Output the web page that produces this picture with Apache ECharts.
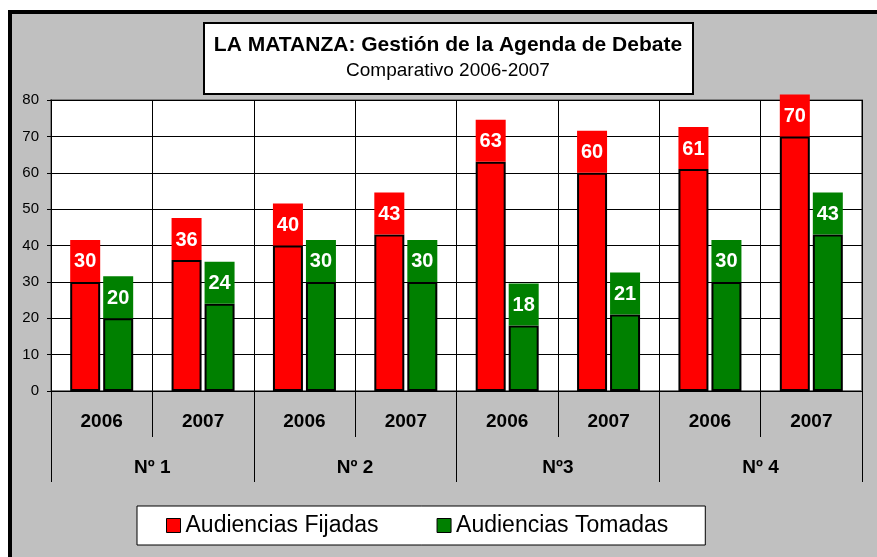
<!DOCTYPE html>
<html>
<head>
<meta charset="utf-8">
<script src="https://cdn.jsdelivr.net/npm/echarts@6/dist/echarts.min.js"></script>
<style>
  html, body { margin: 0; padding: 0; background: #fff; }
  #main { width: 877px; height: 557px; }
</style>
</head>
<body>
<div id="main"></div>
<script>
// datos
var years = ["2006", "2007", "2006", "2007", "2006", "2007", "2006", "2007"];
var groups = ["Nº 1", "Nº 2", "Nº3", "Nº 4"];
var fijadas = [30, 36, 40, 43, 63, 60, 61, 70];
var tomadas = [20, 24, 30, 30, 18, 21, 30, 43];
var yTicks = [0, 80, 10]; // min, max, intervalo

var font = "Liberation Sans, Arial, sans-serif";

function barLabel(color) {
  return {
    show: true,
    position: "top",
    distance: 0,
    formatter: "{c}",
    color: "#fff",
    fontFamily: font,
    fontWeight: "bold",
    fontSize: 20,
    backgroundColor: color,
    width: 30,
    height: 42,
    lineHeight: 40,
    align: "center",
  };
}

var myChart = echarts.init(document.getElementById("main"));
myChart.setOption({
  animation: false,
  textStyle: { fontFamily: font },
  graphic: [
    {
      type: "rect",
      z: -100,
      silent: true,
      shape: { x: 10, y: 12, width: 900, height: 600 },
      style: { fill: "#c0c0c0", stroke: "#000", lineWidth: 4 },
    },
    {
      type: "rect",
      z: 1,
      silent: true,
      shape: { x: 204, y: 23, width: 489, height: 71 },
      style: { fill: "#fff", stroke: "#000", lineWidth: 2 },
    },
  ],
  title: {
    text: "LA MATANZA: Gestión de la Agenda de Debate",
    subtext: "Comparativo 2006-2007",
    left: 448,
    textAlign: "center",
    top: 35,
    itemGap: 5,
    padding: 0,
    textStyle: { fontSize: 21, fontWeight: "bold", color: "#000", fontFamily: font },
    subtextStyle: { fontSize: 19, color: "#000", fontFamily: font },
  },
  legend: {
    left: 137,
    top: 506,
    padding: [8, 37, 8, 29],
    backgroundColor: "#fff",
    borderColor: "#000",
    borderWidth: 1,
    itemWidth: 14,
    itemHeight: 14,
    itemGap: 58,
    icon: "rect",
    itemStyle: { borderWidth: 1 },
    textStyle: { fontSize: 23, color: "#000", fontFamily: font },
  },
  grid: {
    left: 51,
    right: 15,
    top: 100,
    bottom: 166,
    show: true,
    backgroundColor: "#fff",
    borderColor: "#808080",
    borderWidth: 2,
  },
  xAxis: [
    {
      type: "category",
      data: years,
      axisLine: { lineStyle: { color: "#000", width: 1 } },
      axisTick: { show: true, length: 46, interval: 0, lineStyle: { color: "#000" } },
      axisLabel: {
        interval: 0,
        margin: 21,
        color: "#000",
        fontSize: 19,
        fontWeight: "bold",
        fontFamily: font,
      },
      splitLine: { show: true, interval: 0, lineStyle: { color: "#000", width: 1 } },
    },
    {
      type: "category",
      data: groups,
      position: "bottom",
      axisLine: { show: false },
      axisTick: { show: true, length: 91, interval: 0, lineStyle: { color: "#000" } },
      axisLabel: {
        interval: 0,
        margin: 67,
        color: "#000",
        fontSize: 19,
        fontWeight: "bold",
        fontFamily: font,
      },
      splitLine: { show: false },
    },
  ],
  yAxis: {
    type: "value",
    min: yTicks[0],
    max: yTicks[1],
    interval: yTicks[2],
    axisLine: { show: true, lineStyle: { color: "#000" } },
    axisTick: { show: true, length: 4, lineStyle: { color: "#000" } },
    axisLabel: { color: "#000", fontSize: 15, margin: 12, fontFamily: font },
    splitLine: { show: true, lineStyle: { color: "#000", width: 1 } },
  },
  series: [
    {
      name: "Audiencias Fijadas",
      type: "bar",
      data: fijadas,
      barWidth: 30,
      barGap: "10%",
      itemStyle: { color: "#ff0000", borderColor: "#000", borderWidth: 2 },
      label: barLabel("#ff0000"),
    },
    {
      name: "Audiencias Tomadas",
      type: "bar",
      data: tomadas,
      barWidth: 30,
      itemStyle: { color: "#008000", borderColor: "#000", borderWidth: 2 },
      label: barLabel("#008000"),
    },
  ],
});
</script>
</body>
</html>
